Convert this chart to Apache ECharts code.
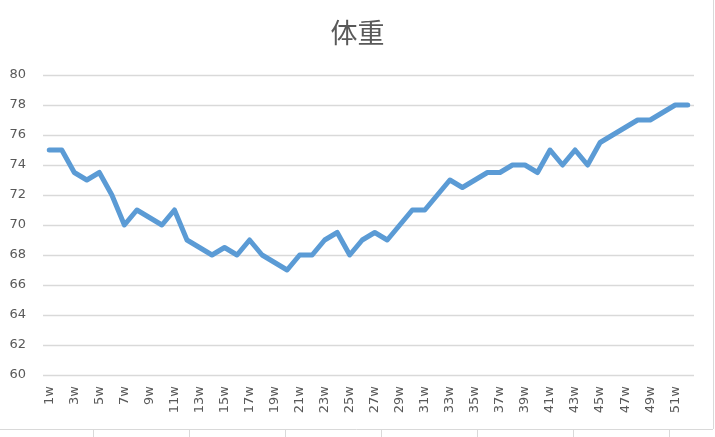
<!DOCTYPE html>
<html>
<head>
<meta charset="utf-8">
<script src="https://cdn.jsdelivr.net/npm/echarts@6/dist/echarts.min.js"></script>
<style>
html,body{margin:0;padding:0;background:#fff;}
#c{width:715px;height:437px;}
</style>
</head>
<body>
<div id="c"></div>
<script>
var chartTitle = "体重";
var weeks = [];
for (var i = 1; i <= 52; i++) weeks.push(i + "w");
var weights = [
  75, 75, 73.5, 73, 73.5, 72, 70, 71, 70.5, 70,
  71, 69, 68.5, 68, 68.5, 68, 69, 68, 67.5, 67,
  68, 68, 69, 69.5, 68, 69, 69.5, 69, 70, 71,
  71, 72, 73, 72.5, 73, 73.5, 73.5, 74, 74, 73.5,
  75, 74, 75, 74, 75.5, 76, 76.5, 77, 77, 77.5,
  78, 78
];
var yMin = 60, yMax = 80, yStep = 2;

var chart = echarts.init(document.getElementById('c'), null, {renderer: 'canvas'});
var sheetTicks = [93, 189, 285, 381, 477, 573, 669];
var graphics = [
  {type: 'line', shape: {x1: 0, y1: 429.5, x2: 713, y2: 429.5}, style: {stroke: '#d9d9d9', lineWidth: 1}, silent: true},
  {type: 'line', shape: {x1: 713.5, y1: 0, x2: 713.5, y2: 429}, style: {stroke: '#d9d9d9', lineWidth: 1}, silent: true}
];
sheetTicks.forEach(function (x) {
  graphics.push({type: 'line', shape: {x1: x + 0.5, y1: 430, x2: x + 0.5, y2: 437}, style: {stroke: '#d9d9d9', lineWidth: 1}, silent: true});
});

chart.setOption({
  animation: false,
  backgroundColor: '#ffffff',
  title: {
    text: chartTitle,
    left: 'center',
    top: 14,
    textStyle: {fontSize: 27, fontWeight: 'normal', color: '#595959', fontFamily: '"Noto Sans CJK JP", sans-serif'}
  },
  graphic: graphics,
  grid: {left: 43, right: 21, top: 75, bottom: 62, containLabel: false},
  xAxis: {
    type: 'category',
    data: weeks,
    boundaryGap: true,
    axisLine: {show: false},
    axisTick: {show: false},
    axisLabel: {
      interval: 1,
      rotate: 90,
      color: '#595959',
      fontSize: 13,
      fontFamily: '"DejaVu Sans", sans-serif',
      margin: 11
    },
    splitLine: {show: false}
  },
  yAxis: {
    type: 'value',
    min: yMin,
    max: yMax,
    interval: yStep,
    axisLine: {show: false},
    axisTick: {show: false},
    axisLabel: {color: '#595959', fontSize: 13, fontFamily: '"DejaVu Sans", sans-serif', margin: 17},
    splitLine: {lineStyle: {color: '#d9d9d9', width: 1.3}}
  },
  series: [{
    type: 'line',
    data: weights,
    symbol: 'none',
    lineStyle: {color: '#5b9bd5', width: 5, cap: 'round', join: 'round'},
    itemStyle: {color: '#5b9bd5'}
  }]
});
</script>
</body>
</html>
